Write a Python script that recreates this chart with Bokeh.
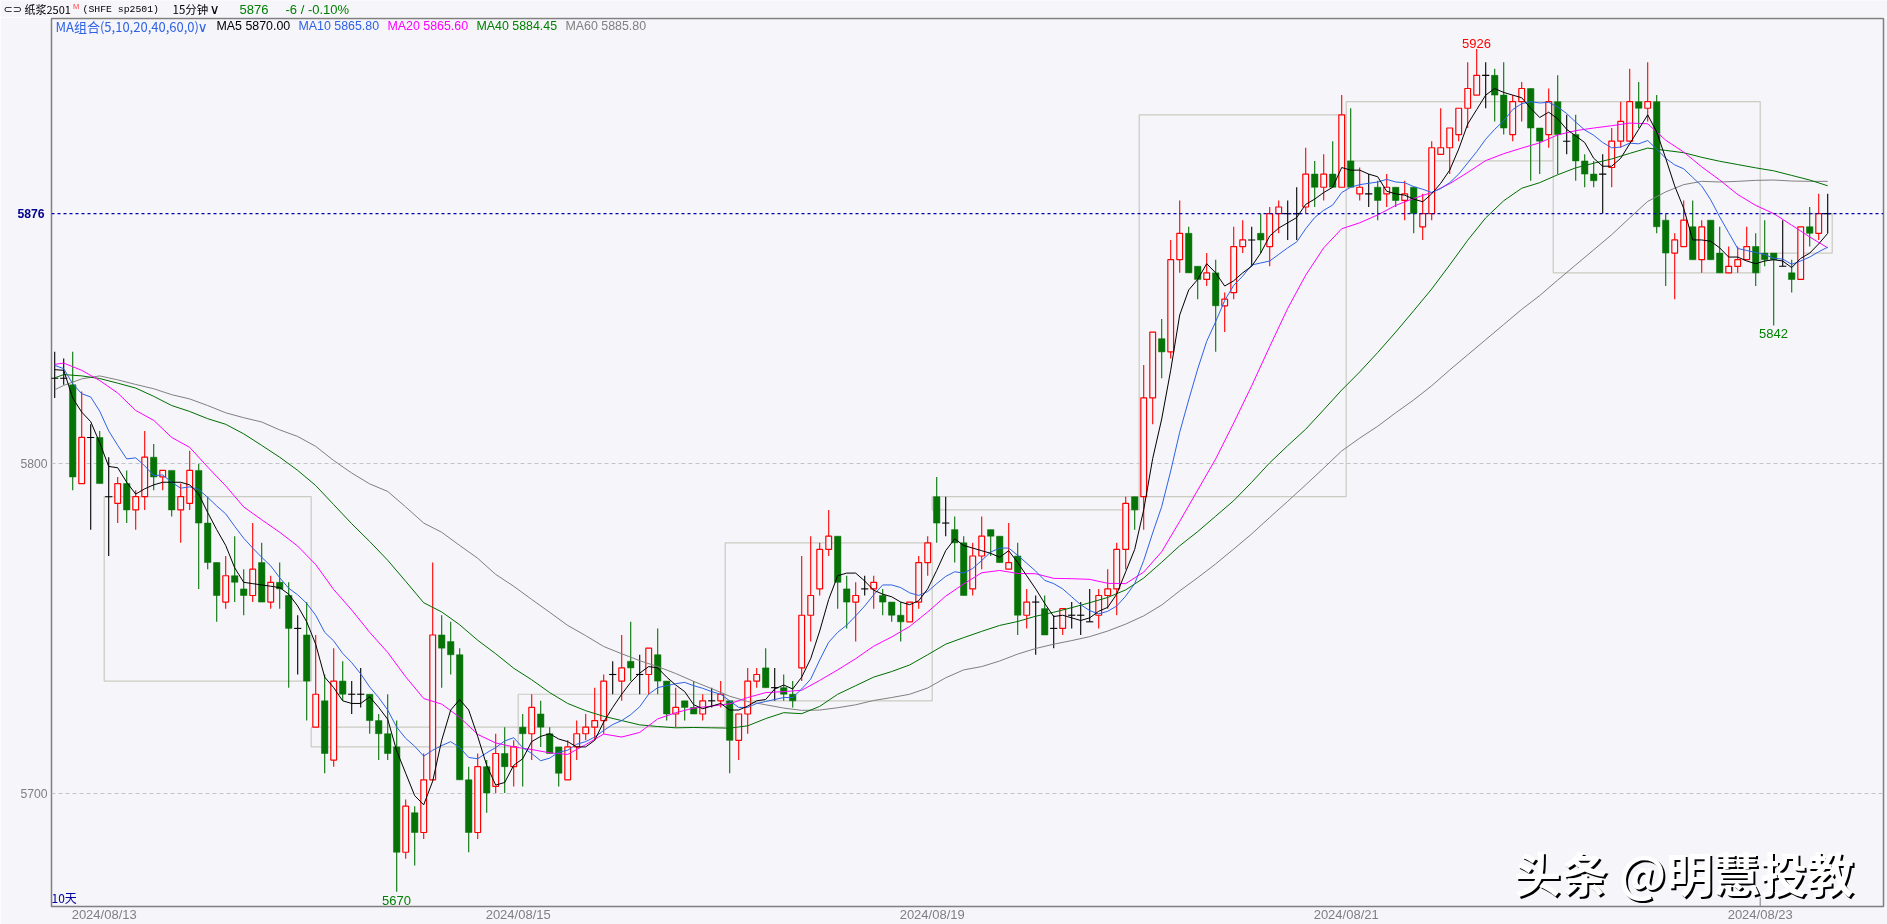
from bokeh.plotting import figure
from bokeh.models import Range1d, FixedTicker, Label, Span, LinearAxis
from bokeh.embed import file_html
from bokeh.resources import INLINE

opens = [5826,5826,5824,5794,5808,5808,5790,5788,5794,5786,
 5790,5802,5796,5798,5786,5788,5798,5782,5770,5758,
 5766,5762,5760,5770,5758,5764,5760,5750,5748,5720,
 5728,5710,5734,5730,5730,5730,5722,5718,5714,5682,
 5694,5688,5704,5748,5746,5742,5704,5688,5708,5702,
 5712,5708,5720,5718,5724,5718,5714,5704,5714,5718,
 5720,5722,5736,5734,5740,5736,5736,5742,5734,5724,
 5728,5726,5724,5728,5728,5728,5716,5724,5734,5738,
 5732,5732,5730,5738,5754,5762,5774,5778,5762,5758,
 5762,5762,5760,5758,5754,5752,5758,5770,5790,5782,
 5780,5776,5762,5772,5780,5778,5768,5772,5754,5758,
 5756,5750,5750,5754,5754,5752,5754,5760,5762,5774,
 5790,5790,5820,5838,5834,5862,5870,5860,5856,5858,
 5848,5852,5866,5868,5870,5866,5876,5876,5876,5878,
 5888,5884,5888,5884,5892,5882,5882,5884,5882,5884,
 5880,5884,5872,5876,5894,5896,5900,5908,5912,5918,
 5918,5912,5900,5910,5914,5902,5900,5910,5898,5900,
 5892,5888,5888,5890,5898,5898,5910,5908,5910,5874,
 5864,5866,5872,5862,5874,5864,5858,5860,5862,5866,
 5864,5864,5860,5858,5856,5872,5870,5876]
highs = [5834,5832,5834,5822,5812,5810,5802,5796,5798,5792,
 5810,5806,5798,5798,5794,5804,5800,5790,5770,5772,
 5778,5768,5782,5776,5766,5770,5764,5754,5758,5748,
 5736,5744,5740,5734,5738,5730,5724,5730,5722,5698,
 5696,5712,5770,5754,5752,5744,5708,5712,5710,5718,
 5720,5716,5724,5730,5728,5720,5714,5716,5722,5724,
 5732,5736,5740,5748,5752,5742,5744,5750,5734,5732,
 5728,5734,5730,5732,5734,5728,5724,5738,5738,5744,
 5738,5736,5734,5772,5778,5776,5786,5778,5766,5764,
 5766,5766,5762,5758,5758,5758,5772,5778,5796,5790,
 5784,5778,5776,5784,5780,5778,5782,5776,5762,5760,
 5760,5754,5756,5758,5758,5762,5762,5768,5776,5790,
 5790,5830,5840,5844,5868,5880,5872,5860,5864,5862,
 5852,5872,5874,5872,5876,5878,5880,5880,5884,5896,
 5892,5894,5898,5912,5908,5890,5888,5886,5888,5884,
 5886,5884,5882,5898,5908,5902,5908,5922,5926,5922,
 5920,5922,5912,5916,5914,5902,5914,5918,5906,5906,
 5894,5892,5894,5902,5910,5920,5916,5922,5912,5876,
 5870,5880,5880,5874,5874,5872,5866,5866,5872,5870,
 5874,5864,5874,5862,5872,5878,5882,5882]
lows = [5820,5824,5792,5794,5780,5794,5772,5782,5782,5780,
 5786,5792,5792,5784,5776,5786,5762,5768,5752,5756,
 5758,5754,5758,5758,5756,5756,5732,5736,5722,5720,
 5706,5708,5728,5724,5726,5718,5710,5710,5670,5680,
 5678,5686,5704,5732,5736,5704,5682,5686,5694,5700,
 5700,5702,5702,5710,5714,5712,5702,5704,5710,5716,
 5716,5718,5730,5728,5734,5730,5730,5730,5722,5720,
 5722,5724,5722,5726,5726,5706,5710,5718,5732,5732,
 5728,5728,5726,5734,5746,5760,5772,5756,5750,5746,
 5760,5756,5754,5752,5746,5752,5756,5766,5776,5778,
 5770,5760,5760,5768,5772,5770,5768,5748,5750,5742,
 5748,5744,5748,5750,5748,5752,5750,5756,5754,5768,
 5780,5780,5812,5826,5832,5858,5858,5850,5854,5834,
 5840,5850,5864,5860,5864,5860,5870,5868,5868,5876,
 5878,5880,5884,5884,5884,5880,5878,5874,5878,5878,
 5874,5870,5868,5874,5894,5888,5898,5902,5912,5908,
 5904,5900,5898,5904,5886,5888,5896,5888,5894,5886,
 5884,5884,5876,5884,5896,5898,5902,5904,5870,5854,
 5850,5866,5862,5858,5862,5858,5858,5858,5862,5854,
 5860,5842,5860,5852,5856,5866,5868,5870]
closes = [5826,5826,5796,5808,5808,5794,5790,5794,5786,5790,
 5802,5796,5798,5786,5790,5798,5782,5770,5760,5766,
 5764,5760,5768,5758,5764,5762,5750,5750,5734,5730,
 5712,5734,5730,5730,5730,5722,5718,5712,5682,5696,
 5688,5704,5748,5744,5742,5704,5688,5708,5700,5712,
 5708,5714,5718,5726,5720,5712,5706,5714,5718,5720,
 5722,5734,5736,5738,5738,5736,5744,5734,5724,5726,
 5726,5724,5728,5728,5730,5716,5724,5734,5736,5732,
 5732,5730,5728,5754,5760,5774,5778,5764,5758,5760,
 5762,5764,5758,5754,5752,5758,5770,5776,5782,5782,
 5776,5760,5772,5778,5778,5770,5770,5754,5758,5758,
 5748,5750,5756,5754,5754,5752,5760,5762,5774,5788,
 5786,5820,5840,5834,5862,5870,5858,5856,5858,5848,
 5850,5866,5868,5868,5868,5876,5878,5876,5876,5888,
 5884,5888,5884,5906,5884,5884,5882,5880,5884,5880,
 5882,5876,5876,5896,5896,5902,5908,5914,5918,5918,
 5912,5902,5910,5914,5902,5898,5910,5900,5898,5892,
 5888,5886,5888,5898,5904,5910,5908,5910,5872,5864,
 5868,5874,5862,5872,5862,5858,5860,5862,5866,5858,
 5862,5862,5860,5856,5872,5870,5876,5876]

ma5 = [5828.6,5828.4,5820,5815.7,5812.8,5806.4,5799.2,5798.8,5794.4,5790.8,
 5792.4,5793.6,5794.4,5794.4,5794.4,5793.6,5790.8,5785.2,5780,5775.2,
 5768.4,5764,5763.6,5763.2,5762.8,5762.4,5760.4,5756.8,5752,5745.2,
 5735.2,5732,5728,5727.2,5727.2,5729.2,5726,5722.4,5712.8,5706,
 5699.2,5696.4,5703.6,5716,5725.2,5728.4,5725.2,5717.2,5708.4,5702.4,
 5703.2,5708.4,5710.4,5715.6,5717.2,5718,5716.4,5715.6,5714,5714,
 5716,5721.6,5726,5730,5733.6,5736.4,5738.4,5738,5735.2,5732.8,
 5730.8,5726.8,5725.6,5726.4,5727.2,5725.2,5725.2,5726.4,5728,5728.4,
 5731.6,5732.8,5731.6,5735.2,5740.8,5749.2,5758.8,5766,5766.8,5766.8,
 5764.4,5761.6,5760.4,5759.6,5758,5757.2,5758.4,5762,5767.6,5773.6,
 5777.2,5775.2,5774.4,5773.6,5772.8,5771.6,5773.6,5770,5766,5762,
 5757.6,5753.6,5754,5753.2,5752.4,5753.2,5755.2,5756.4,5760.4,5767.2,
 5774,5786,5801.6,5813.6,5828.4,5845.2,5852.8,5856,5860.8,5858,
 5854,5855.6,5858,5860,5864,5869.2,5871.6,5873.2,5874.8,5878.8,
 5880.4,5882.4,5884,5890,5889.2,5889.2,5888,5887.2,5882.8,5882,
 5881.6,5880.4,5879.6,5882,5885.2,5889.2,5895.6,5903.2,5907.6,5912,
 5914,5912.8,5912,5911.2,5908,5905.2,5906.8,5904.8,5901.6,5899.6,
 5897.6,5892.8,5890.4,5890.4,5892.8,5897.2,5901.6,5906,5900.8,5892.8,
 5884.4,5877.6,5868,5868,5867.6,5865.6,5862.8,5862.8,5861.6,5860.8,
 5861.6,5862,5861.6,5859.6,5862.4,5864,5866.8,5870]
ma10 = [5829.9,5828.9,5824.3,5821.3,5820.3,5816,5810,5805.6,5801.5,5801.8,
 5799.4,5796.4,5796.6,5794.4,5792.6,5793,5792.2,5789.8,5787.2,5784.8,
 5781,5777.4,5774.4,5771.6,5769,5765.4,5762.2,5760.2,5757.6,5754,
 5748.8,5746.2,5742.4,5739.6,5736.2,5732.2,5729,5725.2,5720,5716.6,
 5714.2,5711.2,5713,5714.4,5715.6,5713.8,5710.8,5710.4,5712.2,5713.8,
 5715.8,5716.8,5713.8,5712,5709.8,5710.6,5712.4,5713,5714.8,5715.6,
 5717,5719,5720.8,5722,5723.8,5726.2,5730,5732,5732.6,5733.2,
 5733.6,5732.6,5731.8,5730.8,5730,5728,5726,5726,5727.2,5727.8,
 5728.4,5729,5729,5731.6,5734.6,5740.4,5745.8,5748.8,5751,5753.8,
 5756.8,5760.2,5763.2,5763.2,5762.4,5760.8,5760,5761.2,5763.6,5765.8,
 5767.2,5766.8,5768.2,5770.6,5773.2,5774.4,5774.4,5772.2,5769.8,5767.4,
 5764.6,5763.6,5762,5759.6,5757.2,5755.4,5754.4,5755.2,5756.8,5759.8,
 5763.6,5770.6,5779,5787,5797.8,5809.6,5819.4,5828.8,5837.2,5843.2,
 5849.6,5854.2,5857,5860.4,5861,5861.6,5863.6,5865.6,5867.4,5871.4,
 5874.8,5877,5878.6,5882.4,5884,5884.8,5885.2,5885.6,5886.4,5885.6,
 5885.4,5884.2,5883.4,5882.4,5883.6,5885.4,5888,5891.4,5894.8,5898.6,
 5901.6,5904.2,5907.6,5909.4,5910,5909.6,5909.8,5908.4,5906.4,5903.8,
 5901.4,5899.8,5897.6,5896,5896.2,5897.4,5897.2,5898.2,5895.6,5892.8,
 5890.8,5889.6,5887,5884.4,5880.2,5875,5870.2,5865.4,5864.8,5864.2,
 5863.6,5862.4,5862.2,5860.6,5861.6,5862.8,5864.4,5865.8]

slow_bars = [0] + list(range(1, 198, 2))
ma20 = [5830.2,5830.6,5828.4,5825.3,5821.5,5816.2,5813.2,5808,5805,5799,
 5793.3,5786.9,5783,5779.2,5775,5769.4,5761.8,5755.6,5748.8,5742.7,
 5735.3,5728.7,5727,5723,5717.8,5715.2,5714,5713.2,5712.2,5711.7,
 5714.7,5717.9,5717,5718.4,5722.5,5724.4,5725.8,5726.4,5727.1,5729,
 5730.5,5730.8,5731.2,5734.2,5737.4,5740.8,5744.6,5747.4,5750.6,5755,
 5759.8,5763.5,5766.9,5767.6,5766.7,5766.6,5765.2,5765.1,5764.9,5763.7,
 5763.6,5767.1,5773.3,5782.5,5792,5801.5,5812.4,5823.7,5835.6,5847.2,
 5857.3,5865.6,5871.4,5873.2,5875.6,5878.5,5880.6,5882.4,5885.1,5888.5,
 5892.1,5894.2,5895.9,5897.5,5899.9,5901.2,5902,5902.7,5903.5,5903.3,
 5898.3,5894.7,5890.2,5886.2,5881.8,5878.5,5876,5872.5,5868.9,5865.6]
ma40 = [5826.1,5827.1,5826.7,5825.9,5824.5,5823,5820.5,5817.7,5815.9,5813.7,
 5812,5809.1,5805.6,5802,5798,5793.4,5787.6,5781.8,5776.4,5770.7,
 5764.3,5757.8,5755,5751.1,5746.4,5742.3,5737.9,5734.4,5730.5,5727.2,
 5725,5723.3,5722,5720.7,5720.2,5719.8,5719.9,5719.8,5719.7,5720.4,
 5722.6,5724.4,5724.1,5726.3,5730,5732.6,5735.2,5736.9,5738.9,5742,
 5745.2,5747.2,5749.1,5750.9,5752.1,5753.7,5754.9,5756.3,5757.8,5759.4,
 5761.7,5765.3,5770.1,5775.1,5779.4,5784.1,5788.8,5794.4,5800.3,5805.5,
 5810.5,5816.4,5822.4,5827.9,5833.8,5840,5846.5,5853.1,5860.4,5867.9,
 5874.7,5879.9,5883.7,5885.4,5887.8,5889.9,5891.3,5892.6,5894.3,5895.9,
 5895.2,5894.5,5893.1,5891.9,5890.9,5889.9,5889,5887.6,5886.2,5884.45]
ma60 = [5822.5,5823.8,5825.8,5826.7,5825.5,5824.1,5822.8,5821,5819.7,5817.7,
 5815.5,5814,5812.7,5810.3,5808.3,5805.3,5801,5797.2,5793.9,5791.6,
 5786.9,5782,5779.2,5775.2,5771.3,5766.4,5762.8,5758.8,5754.9,5750.9,
 5747.8,5744.5,5742.3,5740.2,5738.4,5736.3,5733.9,5731.7,5729.4,5727.8,
 5726.8,5725.8,5725.1,5725.2,5725.9,5726.8,5728.1,5729,5730,5731.9,
 5735,5737.4,5738.4,5740.1,5742.2,5743.9,5745.2,5746.3,5747.5,5749.2,
 5751.3,5753.8,5757.1,5761.4,5765.4,5769.6,5774.1,5778.7,5783.7,5788.6,
 5793.6,5798.7,5803.9,5807.8,5811.4,5815.5,5819.4,5823.7,5828.5,5833.1,
 5837.7,5842.3,5846.9,5851.1,5855.8,5860.4,5865,5869.6,5874.7,5879.7,
 5882.6,5884.8,5885.8,5885.6,5885.8,5886.1,5886.2,5885.9,5885.8,5885.8]

# Trading-day boxes: first bar, last bar, open, close
day_first = [6, 29, 52, 75, 98, 121, 144, 167, 190]
day_last = [28, 51, 74, 97, 120, 143, 166, 189, 197]
day_open = [5790, 5720, 5720, 5728, 5790, 5790, 5892, 5910, 5864]
day_close = [5734, 5714, 5730, 5776, 5786, 5906, 5910, 5858, 5876]

date_ticks = [5.5, 51.5, 97.5, 143.5, 189.5]
date_labels = ["2024/08/13", "2024/08/15", "2024/08/19", "2024/08/21", "2024/08/23"]
grid_prices = [5700, 5800]
last_price = 5876
high_mark = 5926
low_mark_day = 5670
low_mark_week = 5842

BG = "#F5F5FA"
RED = "#FF0000"
GREEN = "#067306"
BLUE = "#2F62E6"
FONT = "Liberation Sans"
CJK = "Noto Sans CJK SC"

W, H = 1887, 924
HEAD = 17
F_L, F_T, F_R, F_B = 51, 18, 1883, 906
PX_BAR0, PX_STEP = 54.2, 9.0
PY_5800, PY_UNIT = 463.3, 3.292

def X(px):
    return (px - PX_BAR0) / PX_STEP

def Y(py):
    return 5800 + (PY_5800 - py) / PY_UNIT

# header strip above the chart
head = figure(width=W, height=HEAD, output_backend="svg", toolbar_location=None,
              x_range=Range1d(0, W), y_range=Range1d(HEAD, 0),
              x_axis_location=None, y_axis_location=None,
              min_border=0, background_fill_color=BG, border_fill_color=BG,
              outline_line_color=None,
              styles={"position": "fixed", "left": "0px", "top": "0px"})
head.grid.visible = False

def head_label(text, px, py, color, size=12.5, font=FONT):
    head.add_layout(Label(x=px, y=py, text=text, text_color=color, text_font=font,
                          text_font_size=f"{size}px", text_align="left",
                          text_baseline="middle"))

head_label("⊂⊃", 3, 8.5, "#000000", 11, "DejaVu Sans")
head_label("纸浆2501", 24, 8.5, "#000000", 11, CJK)
head_label("M", 72.5, 5.5, "#FF4040", 7.5)
head_label("(SHFE sp2501)", 82, 8.5, "#000000", 9.8, "Liberation Mono")
head_label("15分钟", 172, 8.5, "#000000", 11.5, CJK)
head_label("∨", 209, 8, "#000000", 14, "DejaVu Sans")
head_label(f"{closes[-1]}", 239, 8.5, "#008000", 13)
head_label("-6 / -0.10%", 285, 8.5, "#008000", 13)

p = figure(width=W, height=H - HEAD, output_backend="svg", toolbar_location=None,
           x_range=Range1d(X(F_L), X(F_R)), y_range=Range1d(Y(F_B), Y(F_T)),
           min_border_left=F_L, min_border_right=W - F_R,
           min_border_top=F_T - HEAD, min_border_bottom=H - F_B,
           background_fill_color=BG, border_fill_color=BG,
           outline_line_color="#808080", outline_line_width=1.5,
           styles={"position": "fixed", "left": "0px", "top": f"{HEAD}px"})

p.xgrid.visible = False
p.yaxis.ticker = FixedTicker(ticks=grid_prices)
p.xaxis.ticker = FixedTicker(ticks=date_ticks)
p.xaxis.major_label_overrides = dict(zip(date_ticks, date_labels))
p.yaxis.formatter.use_scientific = False

def style_axis(ax, standoff, size, color="#808080", weight="normal"):
    ax.axis_line_color = None
    ax.major_tick_line_color = None
    ax.minor_tick_line_color = None
    ax.major_tick_out = 0
    ax.major_tick_in = 0
    ax.minor_tick_out = 0
    ax.minor_tick_in = 0
    ax.major_label_text_color = color
    ax.major_label_text_font = FONT
    ax.major_label_text_font_size = size
    ax.major_label_text_font_style = weight
    ax.major_label_standoff = standoff

style_axis(p.xaxis[0], 0, "13px")
style_axis(p.yaxis[0], 4, "12.2px")

# second left axis: carries the last price, pulled back next to the frame
last_axis = LinearAxis(ticker=FixedTicker(ticks=[last_price]))
last_axis.formatter.use_scientific = False
style_axis(last_axis, -27, "12.2px", "#000090", "bold")
p.add_layout(last_axis, "left")

p.ygrid.ticker = FixedTicker(ticks=grid_prices)
p.ygrid.grid_line_color = "#C4C4C8"
p.ygrid.grid_line_dash = "4 3"
p.ygrid.grid_line_width = 1

# day boxes
p.quad(left=[b - 0.5 for b in day_first], right=[b + 0.5 for b in day_last],
       top=[max(a, b) for a, b in zip(day_open, day_close)],
       bottom=[min(a, b) for a, b in zip(day_open, day_close)],
       fill_alpha=0, line_color="#CBCBC2", line_width=1.2)

p.add_layout(Span(location=last_price, dimension="width", line_color="#0000A8",
                  line_dash="3 3", line_width=1.3))

bars = list(range(len(closes)))
up = [i for i in bars if closes[i] > opens[i]]
dn = [i for i in bars if closes[i] < opens[i]]
flat = [i for i in bars if closes[i] == opens[i]]

def wicks(idx, color):
    p.segment([bars[i] for i in idx], [lows[i] for i in idx],
              [bars[i] for i in idx], [highs[i] for i in idx],
              line_color=color, line_width=1.1)

wicks(up, RED)
wicks(dn, GREEN)
wicks(flat, "#000000")
p.vbar(x=[bars[i] for i in dn], width=0.72, top=[opens[i] for i in dn],
       bottom=[closes[i] for i in dn], fill_color=GREEN, line_color=GREEN, line_width=0.5)
p.vbar(x=[bars[i] for i in up], width=0.64, top=[closes[i] for i in up],
       bottom=[opens[i] for i in up], fill_color=BG, line_color=RED, line_width=1.2)
p.segment([bars[i] - 0.4 for i in flat], [closes[i] for i in flat],
          [bars[i] + 0.4 for i in flat], [closes[i] for i in flat],
          line_color="#000000", line_width=1.1)

# the small tick above the last date
p.segment([date_ticks[-1]], [Y(F_B)], [date_ticks[-1]], [Y(F_B - 9)],
          line_color="#808080", line_width=1)

p.line(slow_bars, ma60, line_color="#808080", line_width=1)
p.line(slow_bars, ma40, line_color="#006E00", line_width=1)
p.line(slow_bars, ma20, line_color="#FF00FF", line_width=1)
p.line(bars, ma10, line_color=BLUE, line_width=1)
p.line(bars, ma5, line_color="#000000", line_width=1)

def label(text, px, py, color, size=12.5, font=FONT, align="left", bold=False):
    p.add_layout(Label(x=px - F_L, y=F_B - py, x_units="screen", y_units="screen",
                       text=text, text_color=color,
                       text_font=font, text_font_size=f"{size}px",
                       text_font_style="bold" if bold else "normal",
                       text_align=align, text_baseline="middle", level="overlay"))

# MA row
label("MA组合(5,10,20,40,60,0)", 55, 25.7, BLUE, 13, CJK)
label("∨", 197, 26, BLUE, 14, "DejaVu Sans")
label(f"MA5 {ma5[-1]:.2f}", 216, 25.7, "#000000", 12.4)
label(f"MA10 {ma10[-1]:.2f}", 298, 25.7, BLUE, 12.4)
label(f"MA20 {ma20[-1]:.2f}", 387, 25.7, "#FF00FF", 12.4)
label(f"MA40 {ma40[-1]:.2f}", 476, 25.7, "#008000", 12.4)
label(f"MA60 {ma60[-1]:.2f}", 565, 25.7, "#808080", 12.4)

# price marks
label(f"{high_mark}", 1476, 42.7, "#FF0000", 13, align="center")
label(f"{low_mark_week}", 1773, 333, "#008000", 13, align="center")
label(f"{low_mark_day}", 396, 899.5, "#008000", 13, align="center")
label("10天", 51, 897, "#0000A0", 12, CJK)

# watermark
label("头条 @明慧投教", 1515.5, 872.5, "#000000", 47, CJK, bold=True)
label("头条 @明慧投教", 1513.5, 870.5, "#FFFFFF", 47, CJK, bold=True)

open("out.html", "w").write(file_html([head, p], INLINE))
